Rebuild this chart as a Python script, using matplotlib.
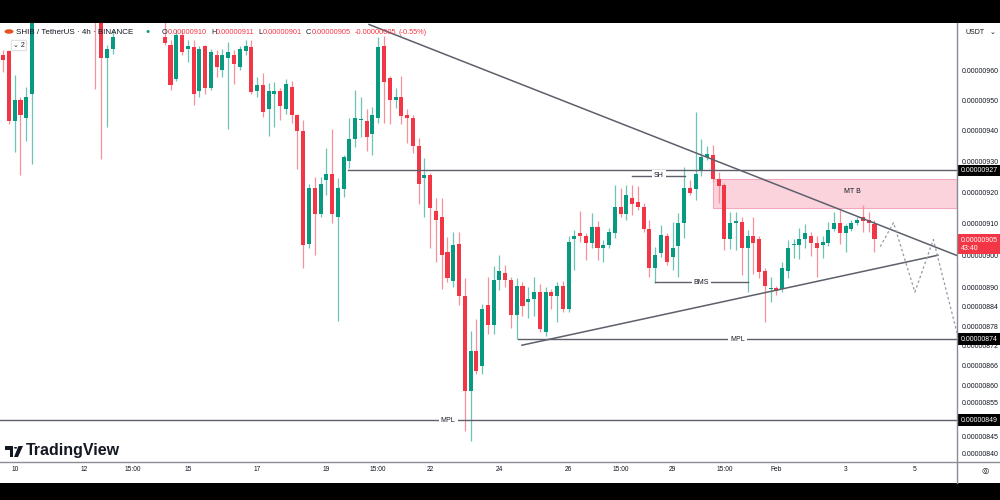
import numpy as np
import matplotlib
matplotlib.use("Agg")
import matplotlib.pyplot as plt
from matplotlib.patches import Rectangle, Polygon, Circle
from matplotlib.lines import Line2D
from matplotlib.transforms import blended_transform_factory
from matplotlib.ticker import NullLocator

plt.rcParams["font.family"] = ["Liberation Sans", "DejaVu Sans"]

nan = float("nan")

# SHIB/USDT 4h candles, prices in 1e-8 USDT (nan = candle above the visible range)
opens = [
    965, 966.4, 943, 950, 944, 952, nan, nan, nan, nan,
    nan, nan, nan, nan, nan, nan, 990, 985, 964, 967,
    nan, nan, nan, nan, nan, nan, nan, nan, 971, 968.4,
    957, 971.8, 967, 967.7, 953, 968, 954, 965, 960, 964,
    965, 961, 966.4, 967.7, 953, 955, 947, 952, 953, 947,
    954.3, 945, 940, 903.6, 921.3, 913, 924, 926, 912, 921,
    930, 937.2, 943.4, 943, 939, 944, 968, 957.3, 950, 951,
    945, 944, 934.9, 924.6, 925.6, 914, 912, 901, 892, 903.6,
    887.2, 858.3, 870.5, 866, 884.5, 878.4, 892.2, 894.3, 892.2, 881.4,
    890.3, 885.4, 886.3, 888.4, 876.3, 888.4, 887.2, 890.3, 883.2, 905.2,
    907, 906.1, 904, 909, 902.4, 903.3, 907, 915.3, 913, 918.1,
    916.9, 915.3, 908.3, 896.1, 900.8, 906.1, 899.3, 903, 910.3, 921.3,
    921, 927.2, 931.4, 932, 924.3, 922.3, 905.2, 910.3, 910.6, 902.4,
    906, 905.2, 895.2, 889.4, 889.7, 889.4, 895.2, 903.3, 903.3, 905.2,
    906.1, 904, 903.3, 904, 908.3, 910.3, 907, 908.3, 910.3, 912,
    911.2, 910,
]
highs = [
    966.7, 966.7, 958.3, 951, 954.3, 984, nan, nan, nan, nan,
    nan, nan, nan, nan, nan, nan, 994, 988, 968.4, 973.5,
    nan, nan, nan, nan, nan, nan, nan, nan, 977, 970,
    973.5, 973.5, 970, 970, 968, 968.4, 967, 966.7, 967, 969.4,
    966.7, 968, 970, 970, 957.7, 959, 955.7, 956, 954, 957,
    956.3, 945.5, 943.4, 922.6, 925, 925, 934.2, 940.4, 924.6, 932,
    944, 953.3, 951, 947, 947.7, 971, 971.4, 958, 954, 958,
    947, 945, 937.5, 931, 926.2, 918.1, 918, 905.8, 907.2, 907.2,
    893, 876.6, 880.2, 884.8, 893.3, 896.5, 900, 897, 893.3, 893,
    891.5, 890, 893.3, 891, 890, 889.4, 891.5, 891.8, 906.1, 908,
    914, 907, 913.3, 910.9, 904.9, 908.5, 922.3, 921.3, 922.3, 922.3,
    922, 916.5, 911.2, 902.7, 909.6, 907.1, 910.6, 913.3, 928.2, 923.9,
    946.1, 937.2, 934.9, 935.2, 926.5, 923, 913.6, 913.6, 912, 908,
    912, 906, 896, 893.3, 890.5, 897.8, 904.9, 905, 908.6, 910,
    907.3, 906, 906, 910.6, 913.6, 914.3, 910, 911.2, 912, 915.9,
    913.6, 911,
]
lows = [
    959.3, 942, 933, 925.6, 936.5, 929, nan, nan, nan, nan,
    nan, nan, nan, nan, nan, nan, 953.6, 930.7, 941, 965.3,
    nan, nan, nan, nan, nan, nan, nan, nan, 968.5, 953.3,
    956.3, 965, 962.7, 948.4, 951, 952, 953.3, 957.7, 957.7, 940.6,
    955.3, 960, 965, 952, 951, 944.4, 938.2, 941, 943.4, 945.4,
    942.4, 927.5, 896, 902.4, 900.2, 912, 919, 910.2, 879.6, 918.5,
    927.8, 934.6, 937.8, 933.3, 932, 942.3, 942.3, 942, 947.4, 942,
    935.9, 932.8, 916.2, 912, 902.4, 898, 889.4, 891.5, 890, 884.5,
    846.5, 843.7, 863.6, 863.6, 875.6, 875.6, 889, 890, 877.5, 874.1,
    881.1, 880.5, 881, 876.3, 875, 883.2, 879.3, 882.5, 882.5, 895.5,
    904.3, 898.4, 902.4, 898.4, 897.8, 902.4, 905.5, 912, 911, 912.8,
    914.3, 907.4, 893.3, 891.2, 899.3, 897, 895.5, 893.3, 905.5, 919.1,
    917.5, 925.3, 930.4, 923.2, 916.6, 901.5, 901.8, 901.5, 893.7, 888.4,
    894, 893, 879.3, 885.4, 887.5, 888.4, 892.8, 899, 898.7, 902.4,
    899.6, 893.3, 899, 903, 907.5, 903.6, 901.1, 907.5, 909.5, 907.4,
    907.4, 901,
]
closes = [
    963.4, 943, 950, 945, 951, 980, nan, nan, nan, nan,
    nan, nan, nan, nan, nan, nan, 980, 964, 967, 971,
    nan, nan, nan, nan, nan, nan, nan, nan, 969, 955,
    971.8, 966, 968, 952, 967, 954, 966, 961, 965, 966,
    962, 967, 968, 952.6, 955, 946, 953, 953, 948, 955.3,
    945, 939.8, 903.3, 921.3, 913, 922.6, 926, 913, 921.3, 931.4,
    937.2, 944, 943.8, 938, 945, 967.7, 956, 950, 951, 944.6,
    944, 934.9, 922.6, 925.6, 915, 911, 900.2, 893, 903.3, 887.2,
    858.3, 870.5, 864.5, 883.2, 878.4, 892.2, 895.2, 892.2, 881.4, 890.3,
    884.2, 886.3, 888.4, 877.2, 888.4, 887.2, 890.3, 883.2, 904.3, 906.1,
    906.1, 904, 909, 902.4, 903.3, 907.3, 915.3, 913, 919, 916.2,
    915.3, 908.3, 896.1, 900.2, 906.4, 898, 902.4, 910.3, 921.3, 919.7,
    925.9, 931.4, 932.3, 924.3, 922, 905.2, 910.3, 910.6, 902.4, 906.1,
    904, 894.6, 890.3, 889.7, 888.7, 896.1, 902.4, 903.6, 905.2, 907,
    904, 902.4, 904.3, 908, 910.3, 907, 909.3, 910.3, 911.2, 910.9,
    910.3, 905,
]

tick_pos = [2, 14, 22.5, 32, 44, 56, 65, 74, 86, 98, 107, 116, 125, 134, 146, 158]
tick_labels = ["10", "12", "15:00", "15", "17", "19", "15:00", "22", "24", "26",
               "15:00", "29", "15:00", "Feb", "3", "5"]
price_ticks = [960, 950, 940, 930, 920, 910, 900, 890, 884, 878, 872, 866,
               860, 855, 850, 845, 840]

# drawings on the chart: (candle index, price)
desc_trend_x, desc_trend_y = [63.4, 165.3], [975.4, 899.9]
asc_trend_x, asc_trend_y = [89.9, 162.0], [872.2, 900.0]
proj_x = [152.0, 154.3, 158.0, 161.2, 165.3]
proj_y = [902.7, 910.3, 888.5, 904.9, 876.0]
zone_x0, zone_lo, zone_hi = 123.1, 915.0, 924.1
sh_x, sh_price = [109, 118.2], 925.3
bms_x, bms_price = [113, 129], 891.5
level_927_start, level_927 = 59.8, 927
mpl_hi_start, mpl_hi = 89.2, 874
mpl_lo = 849.7

UP, DOWN = "#089981", "#f23645"
UP_WICK, DOWN_WICK = "#6cc4b4", "#f6909b"
LINE = "#5d606b"
TXT = "#131722"

XMIN, XMAX = -0.55, 165.3
YMIN, YMAX = 837.4, 975.9

fig = plt.figure(figsize=(10, 5), dpi=100, facecolor="black")
fig.add_artist(Rectangle((0, 0.034), 1, 0.92, transform=fig.transFigure,
                         facecolor="white", edgecolor="none", zorder=0))
ax = fig.add_axes([0, 0.076, 0.957, 0.878])
ax.set_facecolor("white")
for s in ax.spines.values():
    s.set_visible(False)

# candles
o, h, l, c = (np.array(a, dtype=float) for a in (opens, highs, lows, closes))
idx = np.arange(len(o))
ok = ~np.isnan(o)
up = ok & (c >= o)
dn = ok & (c < o)
lo = np.minimum(o, c)
body = np.maximum(np.abs(c - o), 0.35)
ax.vlines(idx[up], l[up], h[up], color=UP_WICK, lw=0.9, zorder=2)
ax.vlines(idx[dn], l[dn], h[dn], color=DOWN_WICK, lw=0.9, zorder=2)
ax.bar(idx[up], body[up], bottom=lo[up], width=0.7, color=UP, zorder=3)
ax.bar(idx[dn], body[dn], bottom=lo[dn], width=0.7, color=DOWN, zorder=3)

# supply zone
ax.fill_between([zone_x0, XMAX], zone_lo, zone_hi, facecolor="#fad3dd",
                edgecolor="#f2a7bb", lw=0.8, zorder=1)
ax.text((zone_x0 + XMAX) / 2 + 3, (zone_lo * zone_hi) ** 0.5 + 0.6, "MT B",
        fontsize=5, color=TXT, ha="center", va="center", zorder=6)

# lines
ax.plot(desc_trend_x, desc_trend_y, color=LINE, lw=1.1, zorder=4)
ax.plot(asc_trend_x, asc_trend_y, color=LINE, lw=1.1, zorder=4)
ax.plot([level_927_start, XMAX], [level_927] * 2, color=LINE, lw=1, zorder=4)
ax.plot([mpl_hi_start, XMAX], [mpl_hi] * 2, color=LINE, lw=1, zorder=4)
ax.plot([XMIN, XMAX], [mpl_lo] * 2, color=LINE, lw=1, zorder=4)
ax.plot(sh_x, [sh_price] * 2, color=LINE, lw=1, zorder=4)
ax.plot(bms_x, [bms_price] * 2, color=LINE, lw=1, zorder=4)
ax.plot(proj_x, proj_y, color="#9598a1", lw=0.9, ls=(0, (2, 2)), zorder=4)

lbl = dict(fontsize=5, color=TXT, ha="center", va="center", zorder=6,
           bbox=dict(boxstyle="square,pad=0.3", fc="white", ec="none"))
ax.text(sum(sh_x) / 2, sh_price, "SH", **lbl)
ax.text(sum(bms_x) / 2, bms_price, "BMS", **lbl)
ax.text(127.3, mpl_hi, "MPL", **lbl)
ax.text(77.1, mpl_lo, "MPL", **lbl)

ax.set_yscale("log")
ax.set_xlim(XMIN, XMAX)
ax.set_ylim(YMIN, YMAX)
ax.set_yticks(price_ticks, [f"{v * 1e-8:.8f}" for v in price_ticks])
ax.yaxis.set_minor_locator(NullLocator())
ax.yaxis.tick_right()
ax.tick_params(axis="y", which="both", length=0, pad=3.3, labelsize=5, labelcolor=TXT)
ax.set_xticks(tick_pos, tick_labels)
ax.tick_params(axis="x", length=0, pad=3, labelsize=4.8, labelcolor=TXT)

# price-scale labels
tr = blended_transform_factory(fig.transFigure, ax.transData)
for v, shown in [(level_927, "927"), (mpl_hi, "874"), (mpl_lo, "849")]:
    ax.text(0.9605, v, f"0.00000{shown}", transform=tr, fontsize=5, color="white",
            ha="left", va="center", zorder=10, clip_on=False,
            bbox=dict(boxstyle="square,pad=0.35", fc="black", ec="none"))
ax.annotate(f"{closes[-1] * 1e-8:.8f}\n43:40", xy=(0.9605, closes[-1]), xycoords=tr,
            xytext=(0, -3.6), textcoords="offset points", fontsize=5, color="white",
            ha="left", va="center", linespacing=1.15, zorder=10, annotation_clip=False,
            bbox=dict(boxstyle="square,pad=0.4", fc=DOWN, ec="none"))

# panel separators
fig.add_artist(Line2D([0.957, 0.957], [0.034, 0.954], color="#8a8d96", lw=1))
fig.add_artist(Line2D([0, 1], [0.076, 0.076], color="#8a8d96", lw=1))

# header legend
fig.add_artist(Circle((0.009, 0.937), 0.0045, transform=fig.transFigure,
                      facecolor="#e2531f", edgecolor="none"))
fig.text(0.016, 0.936, "SHIB / TetherUS · 4h · BINANCE", fontsize=5.8, color=TXT,
         va="center")
fig.text(0.145, 0.937, "●", fontsize=5, color=UP, va="center")
renderer = fig.canvas.get_renderer()
x = 0.162
pieces = [("O", TXT, 0), ("0.00000910", DOWN, 0.004), ("H", TXT, 0),
          ("0.00000911", DOWN, 0.004), ("L", TXT, 0), ("0.00000901", DOWN, 0.004),
          ("C", TXT, 0), ("0.00000905", DOWN, 0.004), ("-0.00000005", DOWN, 0.003),
          ("(-0.55%)", DOWN, 0)]
for part, col, gap in pieces:
    t = fig.text(x, 0.936, part, fontsize=5.3, color=col, va="center")
    x += t.get_window_extent(renderer).width / fig.bbox.width + gap
fig.text(0.013, 0.909, "⌄ 2", fontsize=5, color=TXT, va="center",
         bbox=dict(boxstyle="round,pad=0.25", fc="white", ec="#d1d4dc", lw=0.6))
fig.text(0.965, 0.936, "USDT", fontsize=5, color=TXT, va="center")
fig.text(0.99, 0.936, "⌄", fontsize=5, color=TXT, va="center")
fig.text(0.985, 0.058, "◎", fontsize=6, color=TXT, ha="center", va="center")

# TradingView logo
def px(x, y):
    return (x / 1000, 1 - y / 500)

for poly in ([(5, 446), (13, 446), (13, 457), (9.5, 457), (9.5, 449.5), (5, 449.5)],
             [(18.5, 446), (23, 446), (18, 457), (14, 457)]):
    fig.add_artist(Polygon([px(*p) for p in poly], closed=True, transform=fig.transFigure,
                           facecolor=TXT, edgecolor="none"))
fig.add_artist(Circle(px(15.6, 447.8), 0.0017, transform=fig.transFigure,
                      facecolor=TXT, edgecolor="none"))
fig.text(0.026, 0.098, "TradingView", fontsize=11.5, fontweight="bold", color=TXT,
         va="center")

fig.savefig("out.png", dpi=100, facecolor="black")
